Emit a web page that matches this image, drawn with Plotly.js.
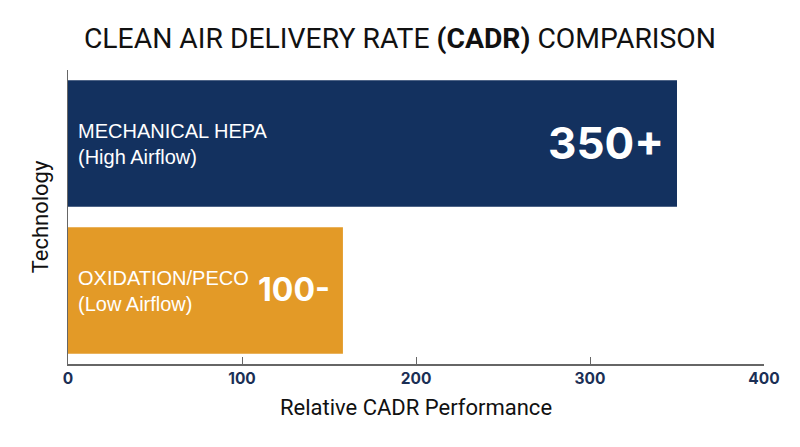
<!DOCTYPE html>
<html>
<head>
<meta charset="utf-8">
<script src="https://cdn.plot.ly/plotly-3.0.1.min.js"></script>
<style>html,body{margin:0;padding:0;background:#fff;}#chart{width:800px;height:447px;}</style>
</head>
<body>
<div id="chart"></div>
<script>
const categories = ['MECHANICAL HEPA', 'OXIDATION/PECO'];
const subLabels = ['(High Airflow)', '(Low Airflow)'];
const values = [350, 158];
const valueLabels = ['350+', '100-'];
const barColors = ['#13315f', '#e39a27'];
const valueFontSizes = [44, 32];
const xTicks = [0, 100, 200, 300, 400];

const trace = {
  type: 'bar',
  orientation: 'h',
  y: categories,
  x: values,
  marker: {color: barColors, line: {width: 0}},
  hoverinfo: 'skip',
  showlegend: false
};

const annotations = [];
categories.forEach((c, i) => {
  annotations.push({
    x: 0, y: c, xref: 'x', yref: 'y',
    xanchor: 'left', yanchor: 'middle', xshift: 8, align: 'left',
    text: c + '<br>' + subLabels[i], showarrow: false,
    font: {family: 'Liberation Sans, Arial, sans-serif', size: 20, color: '#ffffff'}
  });
  annotations.push({
    x: values[i], y: c, xref: 'x', yref: 'y',
    xanchor: 'right', yanchor: 'middle', xshift: -11, yshift: 1,
    text: '<b>' + valueLabels[i] + '</b>', showarrow: false,
    font: {family: 'Inter, sans-serif', size: valueFontSizes[i], color: '#ffffff'}
  });
});

const layout = {
  width: 800, height: 447,
  margin: {l: 68, r: 36, t: 70, b: 83},
  paper_bgcolor: '#ffffff', plot_bgcolor: '#ffffff',
  bargap: 0.14,
  title: {
    text: 'CLEAN AIR DELIVERY RATE <b>(CADR)</b> COMPARISON',
    x: 0.5, xanchor: 'center', y: 0.915, yanchor: 'middle',
    font: {family: 'Roboto, sans-serif', size: 28.3, color: '#111111'}
  },
  xaxis: {
    range: [0, 400], tickvals: xTicks, ticktext: xTicks.map(String),
    showgrid: false, zeroline: false,
    showline: true, linecolor: '#666666', linewidth: 1.5,
    ticks: 'inside', ticklen: 7, tickcolor: '#666666', tickwidth: 1,
    tickfont: {family: 'Inter, sans-serif', size: 15.5, color: '#1b2f55', weight: 'bold'},
    title: {text: 'Relative CADR Performance', standoff: 12,
      font: {family: 'Roboto, sans-serif', size: 22, color: '#111111'}},
    fixedrange: true
  },
  yaxis: {
    type: 'category', categoryorder: 'array', categoryarray: categories,
    range: [1.5, -0.5],
    showticklabels: false, ticks: '', showgrid: false, zeroline: false,
    showline: true, linecolor: '#666666', linewidth: 1.5,
    title: {text: 'Technology', standoff: 12,
      font: {family: 'Roboto, sans-serif', size: 22, color: '#111111'}},
    fixedrange: true
  },
  annotations: annotations
};

Plotly.newPlot('chart', [trace], layout, {displayModeBar: false, staticPlot: true});
</script>
</body>
</html>
